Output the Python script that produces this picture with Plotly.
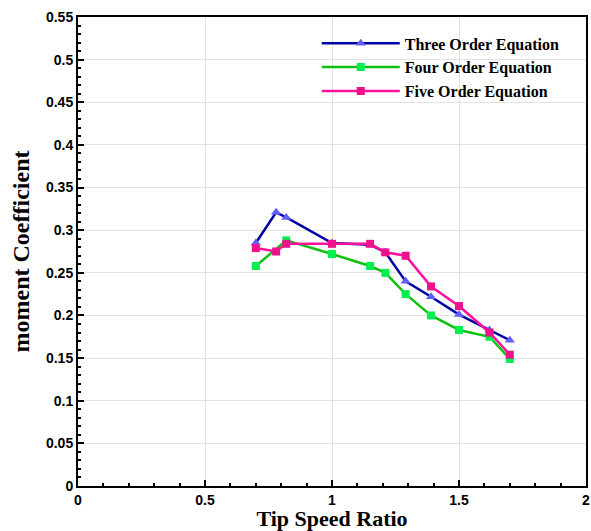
import plotly.graph_objects as go

x_three = [0.70, 0.78, 0.82, 1.00, 1.15, 1.21, 1.29, 1.39, 1.50, 1.62, 1.70]
y_three = [0.285, 0.321, 0.315, 0.285, 0.283, 0.274, 0.240, 0.222, 0.201, 0.183, 0.171]

x_four = [0.70, 0.82, 1.00, 1.15, 1.21, 1.29, 1.39, 1.50, 1.62, 1.70]
y_four = [0.258, 0.288, 0.272, 0.258, 0.250, 0.225, 0.200, 0.183, 0.175, 0.149]

x_five = [0.70, 0.78, 0.82, 1.00, 1.15, 1.21, 1.29, 1.39, 1.50, 1.62, 1.70]
y_five = [0.279, 0.275, 0.284, 0.284, 0.284, 0.274, 0.270, 0.234, 0.211, 0.180, 0.154]

names = ["Three Order Equation", "Four Order Equation", "Five Order Equation"]
x_ticks = [0, 0.5, 1, 1.5, 2]
x_labels = ["0", "0.5", "1", "1.5", "2"]
y_ticks = [0, 0.05, 0.1, 0.15, 0.2, 0.25, 0.3, 0.35, 0.4, 0.45, 0.5, 0.55]
y_labels = ["0", "0.05", "0.1", "0.15", "0.2", "0.25", "0.3", "0.35", "0.4", "0.45", "0.5", "0.55"]

fig = go.Figure()
fig.add_trace(go.Scatter(x=x_three, y=y_three, name="<b>" + names[0] + "</b>", mode="lines+markers",
                         line=dict(color="#0000a8", width=2.5),
                         marker=dict(symbol="triangle-up", size=9, color="#6060ff")))
fig.add_trace(go.Scatter(x=x_four, y=y_four, name="<b>" + names[1] + "</b>", mode="lines+markers",
                         line=dict(color="#10c010", width=2.5),
                         marker=dict(symbol="square", size=8, color="#00f050")))
fig.add_trace(go.Scatter(x=x_five, y=y_five, name="<b>" + names[2] + "</b>", mode="lines+markers",
                         line=dict(color="#ff10a0", width=2.5),
                         marker=dict(symbol="square", size=8, color="#f0108a")))

tickfont = dict(family="Liberation Sans", size=14, color="black")
fig.update_layout(
    width=591, height=531,
    margin=dict(l=78, r=5, t=17, b=45, autoexpand=False),
    plot_bgcolor="white", paper_bgcolor="white",
    showlegend=True,
    legend=dict(x=0.47, y=0.98, xanchor="left", yanchor="top",
                bgcolor="rgba(0,0,0,0)", itemwidth=78, tracegroupgap=0,
                font=dict(family="Liberation Serif", size=16, color="black")),
    xaxis=dict(range=[0, 2], tickvals=x_ticks, ticktext=["<b>" + t + "</b>" for t in x_labels],
               ticks="inside", ticklen=6, tickwidth=1.5, tickcolor="black",
               minor=dict(dtick=0.1, ticks="inside", ticklen=3, tickcolor="black", showgrid=False),
               showgrid=True, gridcolor="#e2e2e2", gridwidth=1,
               showline=True, linecolor="black", linewidth=2, mirror=True,
               zeroline=False, tickfont=tickfont, automargin=False, ticklabeloverflow="allow",
               title=dict(text="<b>Tip Speed Ratio</b>", standoff=3,
                          font=dict(family="Liberation Serif", size=22, color="black"))),
    yaxis=dict(range=[0, 0.55], tickvals=y_ticks, ticktext=["<b>" + t + "</b>" for t in y_labels],
               ticks="inside", ticklen=6, tickwidth=1.5, tickcolor="black",
               minor=dict(dtick=0.01, ticks="inside", ticklen=3, tickcolor="black", showgrid=False),
               showgrid=True, gridcolor="#e2e2e2", gridwidth=1,
               showline=True, linecolor="black", linewidth=2, mirror=True,
               zeroline=False, tickfont=tickfont, automargin=False, ticklabeloverflow="allow",
               title=dict(text="<b>moment Coefficient</b>", standoff=10,
                          font=dict(family="Liberation Serif", size=24, color="black"))),
)

fig.write_html("out.html", config={"displayModeBar": False},
               post_script="document.body.style.margin='0';document.body.style.overflow='hidden';")
